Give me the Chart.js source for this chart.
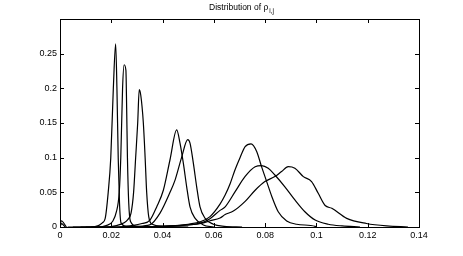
<!DOCTYPE html>
<html>
<head>
<meta charset="utf-8">
<script src="https://cdn.jsdelivr.net/npm/chart.js@4/dist/chart.umd.min.js"></script>
<style>
html,body{margin:0;padding:0;background:#fff;}
#wrap{width:463px;height:256px;position:relative;}
</style>
</head>
<body>
<div id="wrap"><canvas id="c" width="463" height="256"></canvas></div>
<script>
// ---- data ----
const titleMain = "Distribution of \u03C1";
const titleSub = "i,j";

const xTickValues = [0, 0.02, 0.04, 0.06, 0.08, 0.1, 0.12, 0.14];
const xTickLabels = ["0", "0.02", "0.04", "0.06", "0.08", "0.1", "0.12", "0.14"];
const yTickValues = [0, 0.05, 0.1, 0.15, 0.2, 0.25];
const yTickLabels = ["0", "0.05", "0.1", "0.15", "0.2", "0.25"];

const c1x = [0.003, 0.012, 0.015, 0.0165, 0.0176, 0.0188, 0.0198, 0.0208, 0.0217, 0.0222, 0.0227, 0.0232, 0.0238, 0.026, 0.035];
const c1y = [0, 0, 0.002, 0.006, 0.012, 0.05, 0.1, 0.2, 0.264, 0.2, 0.1, 0.035, 0.006, 0.001, 0];

const c2x = [0.005, 0.015, 0.018, 0.0205, 0.022, 0.0231, 0.0237, 0.0244, 0.025, 0.0257, 0.026, 0.0263, 0.0268, 0.0275, 0.03, 0.04];
const c2y = [0, 0, 0.002, 0.008, 0.022, 0.05, 0.1, 0.2, 0.234, 0.226, 0.17, 0.1, 0.035, 0.008, 0.001, 0];

const c3x = [0.008, 0.018, 0.022, 0.025, 0.0265, 0.0277, 0.0287, 0.0295, 0.0303, 0.0309, 0.0315, 0.0325, 0.0332, 0.0338, 0.0346, 0.036, 0.04, 0.05];
const c3y = [0, 0, 0.002, 0.006, 0.011, 0.02, 0.05, 0.1, 0.15, 0.198, 0.19, 0.15, 0.1, 0.05, 0.015, 0.004, 0.001, 0];

const c4x = [0.01, 0.022, 0.028, 0.032, 0.0351, 0.0377, 0.0403, 0.0429, 0.0455, 0.0468, 0.0481, 0.0494, 0.0507, 0.0527, 0.0559, 0.06];
const c4y = [0, 0, 0.002, 0.005, 0.010, 0.029, 0.053, 0.097, 0.140, 0.121, 0.092, 0.058, 0.029, 0.0125, 0.003, 0];

const c5x = [0.012, 0.025, 0.030, 0.035, 0.039, 0.0429, 0.0449, 0.0474, 0.0498, 0.0507, 0.052, 0.0533, 0.0546, 0.0566, 0.0598, 0.064, 0.071];
const c5y = [0, 0, 0.001, 0.003, 0.02, 0.05, 0.068, 0.1, 0.126, 0.121, 0.092, 0.058, 0.029, 0.0125, 0.004, 0.001, 0];

const c6x = [0.03, 0.04, 0.045, 0.05, 0.055, 0.0585, 0.0624, 0.0644, 0.0663, 0.0683, 0.0702, 0.0722, 0.0745, 0.0767, 0.0786, 0.0806, 0.0826, 0.0851, 0.0884, 0.0923, 0.0995, 0.1];
const c6y = [0, 0.001, 0.002, 0.004, 0.008, 0.015, 0.033, 0.046, 0.062, 0.083, 0.1, 0.116, 0.12, 0.109, 0.087, 0.0655, 0.044, 0.022, 0.0087, 0.004, 0.001, 0];

const c7x = [0.03, 0.04, 0.05, 0.055, 0.0585, 0.0624, 0.0644, 0.0683, 0.0722, 0.0761, 0.0786, 0.0812, 0.0838, 0.0877, 0.0916, 0.0955, 0.0995, 0.1046, 0.11, 0.117];
const c7y = [0, 0.001, 0.003, 0.006, 0.012, 0.024, 0.029, 0.051, 0.073, 0.087, 0.0886, 0.0848, 0.075, 0.058, 0.039, 0.022, 0.010, 0.004, 0.0015, 0];

const c8x = [0.03, 0.04, 0.05, 0.055, 0.0585, 0.0624, 0.0644, 0.0676, 0.0722, 0.0761, 0.0799, 0.0838, 0.0864, 0.089, 0.0916, 0.0949, 0.0981, 0.1007, 0.1034, 0.106, 0.1118, 0.1195, 0.1274, 0.1357];
const c8y = [0, 0.001, 0.003, 0.005, 0.009, 0.013, 0.018, 0.023, 0.037, 0.053, 0.0655, 0.0727, 0.080, 0.087, 0.0848, 0.0727, 0.0655, 0.0486, 0.031, 0.027, 0.0125, 0.005, 0.0015, 0];

const c9x = [0, 0.0005, 0.0025];
const c9y = [0, 0.009, 0];
const c10x = [0, 0.0006, 0.002];
const c10y = [0, 0.005, 0];

const curves = [[c1x,c1y],[c2x,c2y],[c3x,c3y],[c4x,c4y],[c5x,c5y],[c6x,c6y],[c7x,c7y],[c8x,c8y],[c9x,c9y],[c10x,c10y]];

const datasets = curves.map(([xs, ys], k) => ({
  label: 'curve ' + (k + 1),
  data: xs.map((x, i) => ({x: x, y: ys[i]})),
  borderColor: '#000',
  borderWidth: 1.2,
  pointRadius: 0,
  fill: false,
  cubicInterpolationMode: 'monotone'
}));

const FONT = "'Liberation Sans', Arial, Helvetica, sans-serif";

const boxPlugin = {
  id: 'boxPlugin',
  afterDraw(chart) {
    const ctx = chart.ctx;
    const a = chart.chartArea;
    const xs = chart.scales.x, ys = chart.scales.y;
    ctx.save();
    ctx.strokeStyle = '#000';
    ctx.lineWidth = 1;
    ctx.strokeRect(Math.round(a.left) + 0.5, Math.round(a.top) + 0.5, Math.round(a.right - a.left), Math.round(a.bottom - a.top));
    const L = 4;
    ctx.beginPath();
    xTickValues.forEach(v => {
      const p = Math.round(xs.getPixelForValue(v)) + 0.5;
      ctx.moveTo(p, a.bottom); ctx.lineTo(p, a.bottom - L);
      ctx.moveTo(p, a.top); ctx.lineTo(p, a.top + L);
    });
    yTickValues.forEach(v => {
      const p = Math.round(ys.getPixelForValue(v)) + 0.5;
      ctx.moveTo(a.left, p); ctx.lineTo(a.left + L, p);
      ctx.moveTo(a.right, p); ctx.lineTo(a.right - L, p);
    });
    ctx.stroke();
    // title with subscript
    ctx.fillStyle = '#000';
    ctx.textBaseline = 'alphabetic';
    ctx.font = "8.5px " + FONT;
    const w1 = ctx.measureText(titleMain).width;
    ctx.font = "6.5px " + FONT;
    const w2 = ctx.measureText(titleSub).width;
    const cx = (a.left + a.right) / 2 + 2;
    const x0 = cx - (w1 + w2 + 1) / 2;
    ctx.font = "8.5px " + FONT;
    ctx.textAlign = 'left';
    ctx.fillText(titleMain, x0, 10);
    ctx.font = "6.5px " + FONT;
    ctx.fillText(titleSub, x0 + w1 + 1, 13);
    ctx.restore();
  }
};

new Chart(document.getElementById('c'), {
  type: 'line',
  data: { datasets: datasets },
  plugins: [boxPlugin],
  options: {
    responsive: false,
    animation: false,
    events: [],
    layout: { padding: { top: 19, right: 44, left: 0, bottom: 0 } },
    plugins: { legend: { display: false }, tooltip: { enabled: false }, title: { display: false } },
    scales: {
      x: {
        type: 'linear', min: 0, max: 0.14,
        afterBuildTicks: s => { s.ticks = xTickValues.map(v => ({value: v})); },
        afterFit: s => { s.height = 29; },
        grid: { display: false, drawTicks: false },
        border: { display: true, color: '#000', width: 1 },
        ticks: {
          color: '#000', padding: 3, maxRotation: 0, autoSkip: false,
          font: { family: FONT, size: 9 },
          callback: (v) => { const i = xTickValues.indexOf(v); return i >= 0 ? xTickLabels[i] : ''; }
        }
      },
      y: {
        type: 'linear', min: 0, max: 0.3,
        afterBuildTicks: s => { s.ticks = yTickValues.map(v => ({value: v})); },
        afterFit: s => { s.width = 60; },
        grid: { display: false, drawTicks: false },
        border: { display: true, color: '#000', width: 1 },
        ticks: {
          color: '#000', padding: 3, autoSkip: false,
          font: { family: FONT, size: 9 },
          callback: (v) => { const i = yTickValues.indexOf(v); return i >= 0 ? yTickLabels[i] : ''; }
        }
      }
    }
  }
});
</script>
</body>
</html>
